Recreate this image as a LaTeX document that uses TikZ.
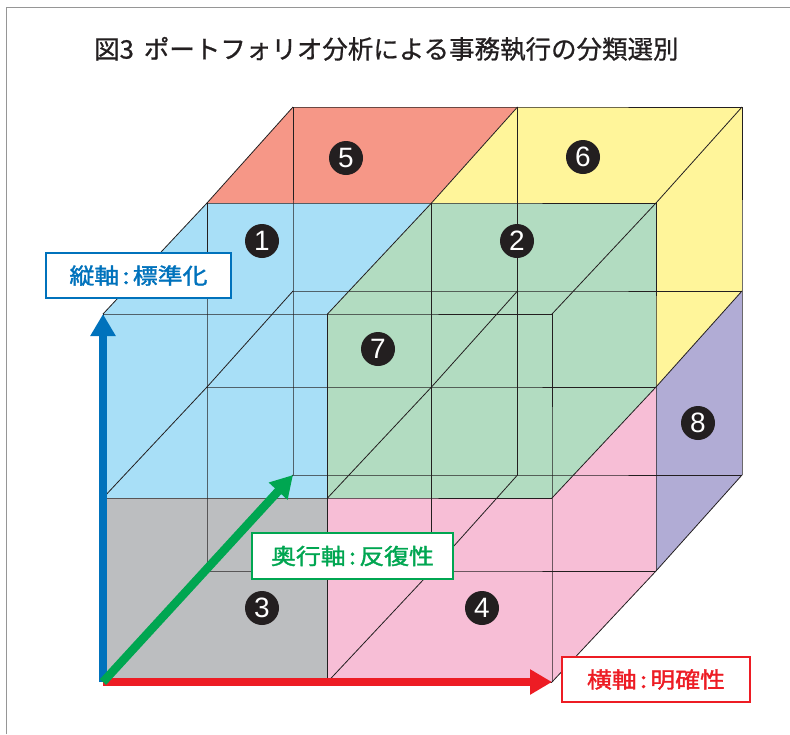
\documentclass[tikz,border=0pt]{standalone}
\usepackage{fontspec}
\newfontfamily\jpfont[FakeBold=1.5]{Noto Sans CJK JP}
\newfontfamily\jptitle[FakeBold=0.8]{Noto Sans CJK JP}
\newfontfamily\numfont{Liberation Sans}
\usetikzlibrary{arrows.meta}
\definecolor{inkc}{RGB}{35,31,32}
\definecolor{cblue}{RGB}{168,223,247}
\definecolor{cred}{RGB}{246,151,135}
\definecolor{cyellow}{RGB}{255,245,154}
\definecolor{cgreen}{RGB}{178,220,193}
\definecolor{cgray}{RGB}{188,190,192}
\definecolor{cpink}{RGB}{247,190,214}
\definecolor{cpurple}{RGB}{177,172,213}
\definecolor{axblue}{RGB}{0,114,188}
\definecolor{axgreen}{RGB}{0,166,81}
\definecolor{axred}{RGB}{237,28,36}
\definecolor{framegray}{RGB}{150,150,150}
\tikzset{
  gridline/.style={draw=inkc, line width=0.8pt},
  axisarrow/.style={line width=8.5pt, -{Triangle[length=22pt,width=24pt]}},
  numdot/.style={circle, fill=inkc, minimum size=34pt, inner sep=0pt, text=white, font=\numfont\fontsize{28}{28}\selectfont},
  axlabel/.style={draw=#1, line width=1.6pt, fill=white, text=#1, minimum height=45pt, inner sep=0pt, font=\jpfont\fontsize{22}{24}\selectfont},
}
\newcommand{\axtext}[2]{\scalebox{1.13}[1]{#1\kern3pt:\kern3pt#2}}
\begin{document}
\begin{tikzpicture}[x=1pt,y=-1pt]
\useasboundingbox (0,0) rectangle (790,734);
% frame
\draw[framegray, line width=1.5pt] (6.7,734) -- (6.7,7.3) -- (790,7.3);
% title
\node[anchor=west, inner sep=0pt, text=inkc, font=\jptitle\fontsize{25.5}{28}\selectfont] (title) at (94,49) {図3\kern10pt ポートフォリオ分析による事務執行の分類選別};
% lattice coordinates
\foreach \k/\dx/\dy in {0/0/0, 1/104/-111, 2/190/-207}{
  \foreach \i in {0,1,2}{
    \foreach \j in {0,1,2}{
      \coordinate (p\i\j\k) at ({103+\dx+\i*224.5},{682+\dy-\j*184});
    }
  }
}
% fills
\fill[cgray] (p000) -- (p100) -- (p110) -- (p010) -- cycle;
\fill[cpink] (p100) -- (p200) -- (p210) -- (p110) -- cycle;
\fill[cpink] (p200) -- (p201) -- (p211) -- (p210) -- cycle;
\fill[cblue] (p010) -- (p110) -- (p120) -- (p020) -- cycle;
\fill[cblue] (p020) -- (p120) -- (p121) -- (p021) -- cycle;
\fill[cgreen] (p110) -- (p210) -- (p220) -- (p120) -- cycle;
\fill[cgreen] (p120) -- (p220) -- (p221) -- (p121) -- cycle;
\fill[cgreen] (p210) -- (p211) -- (p221) -- (p220) -- cycle;
\fill[cred] (p021) -- (p121) -- (p122) -- (p022) -- cycle;
\fill[cyellow] (p121) -- (p221) -- (p222) -- (p122) -- cycle;
\fill[cyellow] (p211) -- (p212) -- (p222) -- (p221) -- cycle;
\fill[cpurple] (p201) -- (p202) -- (p212) -- (p211) -- cycle;
% grid lines
\foreach \a in {0,1,2}{
  \foreach \b in {0,1,2}{
    \draw[gridline] (p0\a\b) -- (p1\a\b) -- (p2\a\b);
    \draw[gridline] (p\a0\b) -- (p\a1\b) -- (p\a2\b);
    \draw[gridline] (p\a\b0) -- (p\a\b1) -- (p\a\b2);
  }
}
% axes
\draw[axisarrow, axblue] (p000) -- (p020);
\draw[axisarrow, axred] (p000) -- (p200);
\draw[axisarrow, axgreen] (p000) -- (p002);
% numbers
\node[numdot] (n1) at (262,241) {1};
\node[numdot] (n2) at (517,241) {2};
\node[numdot] (n3) at (262,608) {3};
\node[numdot] (n4) at (482,608) {4};
\node[numdot] (n5) at (346,158) {5};
\node[numdot] (n6) at (583,157) {6};
\node[numdot] (n7) at (378,349) {7};
\node[numdot] (n8) at (698,423) {8};
% axis labels
\node[axlabel=axblue, minimum width=185pt] (lv) at (138.5,275.5) {\axtext{縦軸}{標準化}};
\node[axlabel=axgreen, minimum width=201pt, minimum height=46pt] (ld) at (352.5,556) {\axtext{奥行軸}{反復性}};
\node[axlabel=axred, minimum width=188pt] (lh) at (656,679.5) {\axtext{横軸}{明確性}};
\end{tikzpicture}
\end{document}
